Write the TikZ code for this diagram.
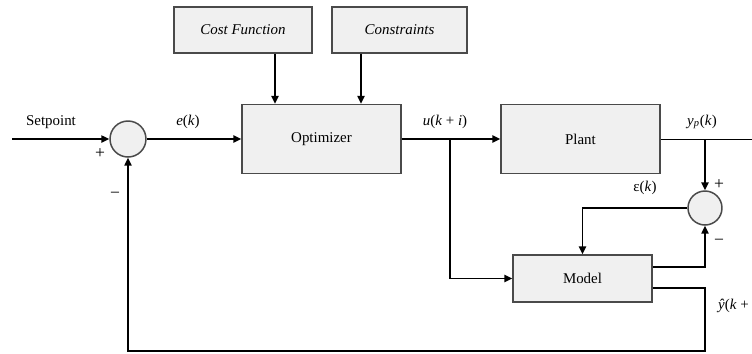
\documentclass[tikz,border=0pt]{standalone}
\usepackage{fontspec}
\setmainfont{Liberation Serif}
\usetikzlibrary{arrows.meta,positioning}
\definecolor{boxfill}{HTML}{F0F0F0}
\definecolor{boxline}{HTML}{4A4A4A}
\tikzset{>={Triangle[length=4.5pt,width=4pt]},line width=1.1pt,
  every node/.style={font=\fontsize{8.5}{10}\selectfont},
  block/.style={draw=boxline,fill=boxfill,line width=.85pt,inner sep=0pt},
  sumnode/.style={circle,draw=boxline,fill=boxfill,line width=.85pt,
    minimum size=.72cm,inner sep=0pt},
  wire/.style={->,line width=1.1pt},
  sig/.style={inner sep=1pt,font=\fontsize{10}{12}\selectfont}}

\begin{document}
\begin{tikzpicture}[x=0.02cm,y=-0.02cm]
\useasboundingbox (0,0) rectangle (752,353);
% blocks
\node[block,minimum width=2.76cm,minimum height=.92cm] (cost) at (243,30) {\textit{Cost Function}};
\node[block,minimum width=2.7cm,minimum height=.92cm] (cons) at (399.5,30) {\textit{Constraints}};
\node[block,minimum width=3.18cm,minimum height=1.38cm] (opt) at (321.5,139) {Optimizer};
\node[block,minimum width=3.18cm,minimum height=1.38cm] (plant) at (580.5,139) {Plant};
\node[block,minimum width=2.78cm,minimum height=.94cm] (model) at (582.5,278.5) {Model};
\node[sumnode] (sum1) at (128,139) {};
\node[sumnode,minimum size=.68cm] (sum2) at (705,208) {};
% free ends and branch points
\coordinate (sp) at (12,139);
\coordinate (yout) at (752,139);
\coordinate (ubr) at (450,139);
\coordinate (ybr) at (705,139);
\coordinate (fb) at (705,351);
% forward path
\draw[wire] (sp)--(sum1);
\draw[wire] (sum1)--(opt);
\draw[wire] (opt)--(plant);
\draw (plant)--(yout);
\draw[wire] ([xshift=.64cm]cost.south)--([xshift=.64cm]cost.south |- opt.north);
\draw[wire] ([xshift=-.77cm]cons.south)--([xshift=-.77cm]cons.south |- opt.north);
% model loop
\draw[wire] (ubr)|-(model.west);
\draw[wire] (ybr)--(sum2);
\draw[wire] (sum2.west)-|(model.north);
\draw[wire] ([yshift=.23cm]model.east)-|(sum2.south);
\draw[wire] ([yshift=-.19cm]model.east)-|(fb)-|(sum1.south);
% labels
\node (lsp) at (51,122) {Setpoint};
\node (le) at (188,122) {\textit{e}(\textit{k})};
\node (lu) at (445,122) {\textit{u}(\textit{k} + \textit{i})};
\node (ly) at (702,122) {\textit{y}\textsubscript{\textit{p}}(\textit{k})};
\node (leps) at (645,188) {ε(\textit{k})};
\node[anchor=west] (lyhat) at (712,306) {\textit{ŷ}(\textit{k} + \textit{i})};
\node[sig] (p1) at (100,154) {+};
\node[sig] (m1) at (115,195) {−};
\node[sig] (p2) at (719,185) {+};
\node[sig] (m2) at (719,242) {−};
\end{tikzpicture}
\end{document}
